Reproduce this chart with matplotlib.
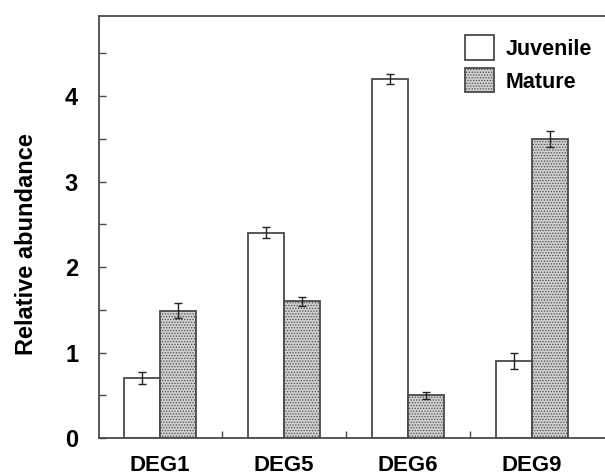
import matplotlib.pyplot as plt
import numpy as np

genes = ["DEG1", "DEG5", "DEG6", "DEG9"]
juvenile = [0.70, 2.40, 4.20, 0.90]
juvenile_err = [0.07, 0.065, 0.06, 0.09]
mature = [1.49, 1.60, 0.50, 3.50]
mature_err = [0.09, 0.05, 0.04, 0.09]

plt.rcParams["font.family"] = ["Liberation Sans", "DejaVu Sans"]
plt.rcParams["font.weight"] = "bold"
plt.rcParams["hatch.color"] = "#8a8a8a"
plt.rcParams["hatch.linewidth"] = 0.6

fig = plt.figure(figsize=(6.05, 4.75), dpi=100)
ax = fig.add_axes([0.1636, 0.0779, 0.8364, 0.888])

x = np.arange(len(genes))
width = 0.29
edge = "#4a4a4a"

ax.bar(x - width / 2, juvenile, width, yerr=juvenile_err, color="white",
       edgecolor=edge, linewidth=1.3, label="Juvenile",
       error_kw=dict(ecolor="#222222", elinewidth=1.0, capsize=3, capthick=1.0))
ax.bar(x + width / 2, mature, width, yerr=mature_err, color="#d0d0d0",
       edgecolor=edge, linewidth=1.3, hatch="......", label="Mature",
       error_kw=dict(ecolor="#222222", elinewidth=1.0, capsize=3, capthick=1.0))

ax.set_xlim(-0.49, 3.59)
ax.set_ylim(0, 4.935)

ax.set_xticks(x)
ax.set_xticklabels(genes, fontsize=16, fontweight="bold")
ax.tick_params(axis="x", which="major", length=0, pad=12)
ax.set_xticks(x[:-1] + 0.5, minor=True)
ax.tick_params(axis="x", which="minor", direction="in", length=5, width=1, color=edge)

ax.set_yticks([0, 1, 2, 3, 4])
ax.set_yticks(np.arange(0.5, 4.6, 1.0), minor=True)
ax.set_yticklabels(["0", "1", "2", "3", "4"], fontsize=17, fontweight="bold")
ax.tick_params(axis="y", which="both", direction="in", length=5, width=1,
               color=edge, pad=15)

for side in ["left", "bottom", "top"]:
    ax.spines[side].set_color(edge)
    ax.spines[side].set_linewidth(1.3)
ax.spines["right"].set_visible(False)

ax.set_ylabel("Relative abundance", fontsize=17, fontweight="bold")
ax.yaxis.set_label_coords(-0.12, 0.46)

ax.legend(loc="upper right", bbox_to_anchor=(1.0, 0.985), frameon=False,
          handlelength=1.35, handleheight=1.35, handletextpad=0.55,
          labelspacing=0.4, borderaxespad=0.2, prop=dict(weight="bold", size=15.5))

fig.savefig("out.png", dpi=100)
